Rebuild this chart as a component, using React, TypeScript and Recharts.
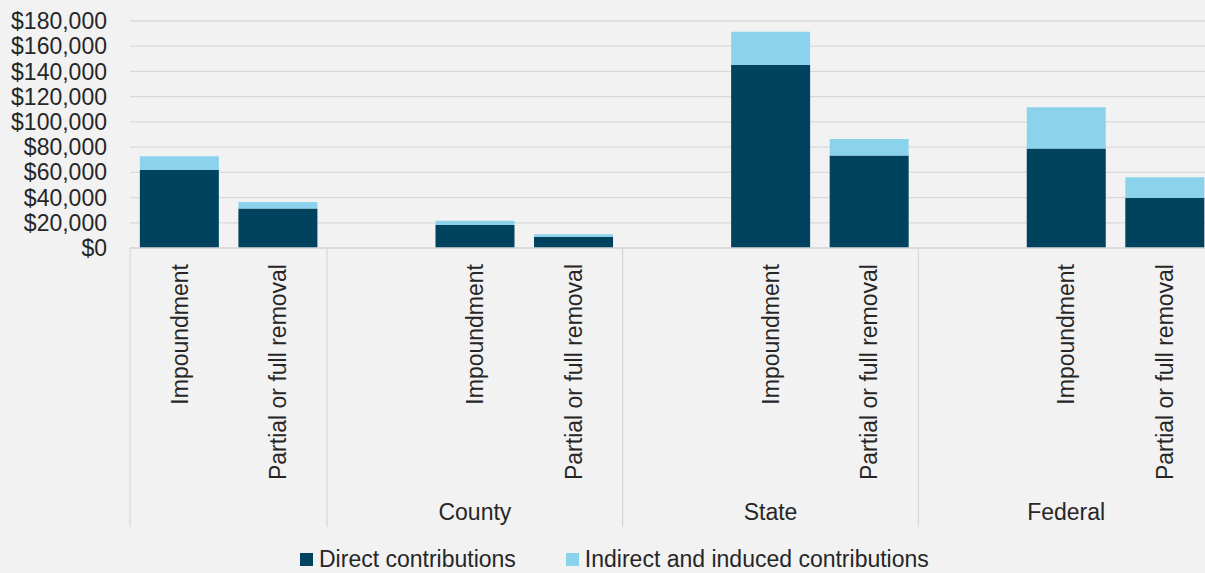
import { Bar, BarChart, CartesianGrid, Legend, XAxis, YAxis } from "recharts";

// one slot per bar position; blank slots separate the groups like the source sheet
const groups = ["", "", "County", "County", "County", "State", "State", "State", "Federal", "Federal", "Federal"];
const types = [
  "Impoundment",
  "Partial or full removal",
  "",
  "Impoundment",
  "Partial or full removal",
  "",
  "Impoundment",
  "Partial or full removal",
  "",
  "Impoundment",
  "Partial or full removal",
];
const direct = [61900, 31300, null, 18300, 9000, null, 145200, 73300, null, 78900, 39700];
const indirect = [10900, 5200, null, 3400, 1900, null, 26200, 13200, null, 32800, 16400];
const yTicks = [0, 20000, 40000, 60000, 80000, 100000, 120000, 140000, 160000, 180000];
const seriesNames = ["Direct contributions", "Indirect and induced contributions"];

const W = 1205;
const H = 573;
const Y_AXIS_W = 130;
const RIGHT_OVERHANG = 9; // plot runs a little past the right edge of the frame
const DARK = "#01425f";
const LIGHT = "#8bd3ec";
const GRID = "#d9d9d9";
const TEXT = "#262626";
const FONT = "'Liberation Sans', Arial, Helvetica, sans-serif";
const STEP = (W + RIGHT_OVERHANG - Y_AXIS_W) / types.length;

const data = types.map((t, i) => ({
  type: t,
  group: groups[i],
  direct: direct[i],
  indirect: indirect[i],
}));

const fmt = (v: number) => "$" + v.toLocaleString("en-US");

function CategoryTick(props: any) {
  const { x, y, payload } = props;
  const i = payload.index ?? props.index;
  const label = types[i];
  const grp = groups[i];
  const isGroupStart = i === 0 || groups[i - 1] !== grp;
  let count = 0;
  for (let k = i; k < groups.length && groups[k] === grp; k++) count++;
  const ly = y + 16;
  return (
    <g>
      {label && (
        <text
          x={x}
          y={ly}
          dy="0.36em"
          transform={`rotate(-90, ${x}, ${ly})`}
          textAnchor="end"
          fontSize={23}
          fontFamily={FONT}
          fill={TEXT}
        >
          {label}
        </text>
      )}
      {isGroupStart && (
        <line x1={x - STEP / 2} x2={x - STEP / 2} y1={y} y2={y + 279} stroke={GRID} strokeWidth={1.3} />
      )}
      {isGroupStart && grp && (
        <text
          x={x + ((count - 1) / 2) * STEP}
          y={y + 271.5}
          textAnchor="middle"
          fontSize={23}
          fontFamily={FONT}
          fill={TEXT}
        >
          {grp}
        </text>
      )}
    </g>
  );
}

function LegendContent() {
  const colors = [DARK, LIGHT];
  return (
    <div
      style={{
        display: "flex",
        alignItems: "center",
        height: 28,
        paddingLeft: 300,
        fontFamily: FONT,
        fontSize: 23,
        color: TEXT,
        whiteSpace: "nowrap",
      }}
    >
      {seriesNames.map((name, i) => (
        <div key={name} style={{ display: "flex", alignItems: "center", marginRight: 50 }}>
          <span style={{ width: 13, height: 13, background: colors[i], marginRight: 6, display: "inline-block" }} />
          <span>{name}</span>
        </div>
      ))}
    </div>
  );
}

export default function App() {
  return (
    <div
      style={{
        position: "absolute",
        left: 0,
        top: 0,
        width: W,
        height: H,
        overflow: "hidden",
        background: "#f2f2f2",
      }}
    >
      <BarChart
        width={W}
        height={H}
        data={data}
        margin={{ top: 21, right: -RIGHT_OVERHANG, bottom: 0, left: 0 }}
        barCategoryGap="10%"
      >
        <CartesianGrid vertical={false} stroke={GRID} strokeWidth={1.3} />
        <XAxis
          dataKey="type"
          interval={0}
          height={297}
          tickLine={false}
          tickSize={0}
          tickMargin={0}
          axisLine={{ stroke: GRID, strokeWidth: 1.3 }}
          tick={<CategoryTick />}
        />
        <YAxis
          width={Y_AXIS_W}
          domain={[0, 180000]}
          ticks={yTicks}
          interval={0}
          tickFormatter={fmt}
          axisLine={false}
          tickLine={false}
          tickMargin={17}
          tick={{ fontSize: 23, fontFamily: FONT, fill: TEXT }}
        />
        <Legend
          verticalAlign="bottom"
          wrapperStyle={{ left: 0, width: W }}
          content={() => <LegendContent />}
        />
        <Bar dataKey="direct" name={seriesNames[0]} stackId="a" fill={DARK} isAnimationActive={false} />
        <Bar dataKey="indirect" name={seriesNames[1]} stackId="a" fill={LIGHT} isAnimationActive={false} />
      </BarChart>
    </div>
  );
}
